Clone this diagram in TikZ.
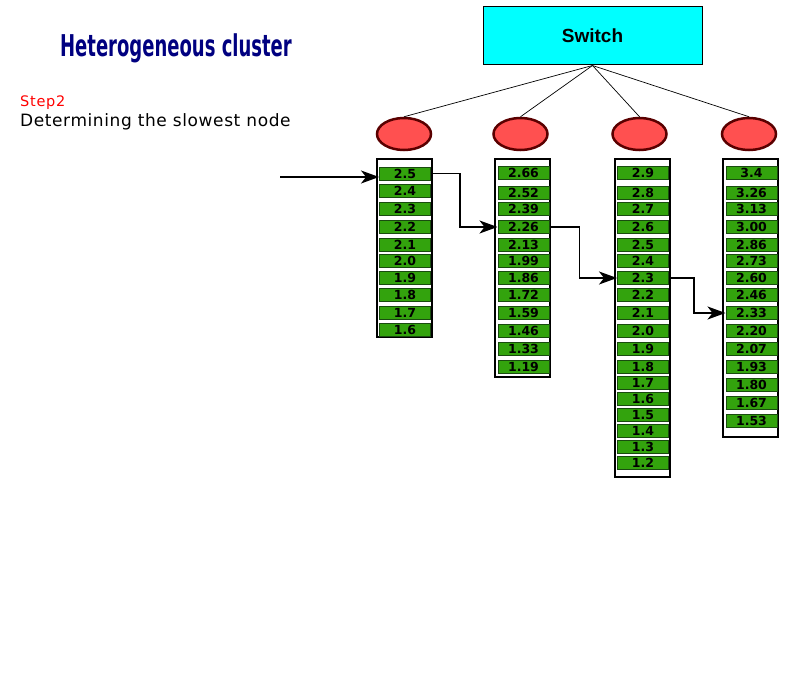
\documentclass[tikz,border=0pt]{standalone}
\usepackage{fontspec}
\setmainfont{DejaVu Sans}
\newfontfamily\titlefont[FakeStretch=0.6]{DejaVu Sans Bold}
\newfontfamily\switchfont{Liberation Sans Bold}
\newfontfamily\labelfont[LetterSpace=5]{DejaVu Sans}
\newfontfamily\taskfont[LetterSpace=3.5]{DejaVu Sans}
\newfontfamily\cellfont{DejaVu Sans Bold}
\usetikzlibrary{shapes.geometric,arrows.meta}

\definecolor{cellgreen}{RGB}{51,163,13}
\definecolor{cellline}{RGB}{25,75,15}
\definecolor{nodered}{RGB}{255,80,80}
\definecolor{nodeline}{RGB}{90,0,0}
\definecolor{titleblue}{RGB}{0,0,128}
\definecolor{switchcyan}{RGB}{0,255,255}

\tikzset{
  cell/.style={draw=cellline, fill=cellgreen, line width=1pt, minimum width=51pt,
    minimum height=13pt, inner sep=0pt, font=\cellfont\fontsize{12.5}{12.5}\selectfont},
  colbox/.style={draw=black, fill=white, line width=2.2pt},
  host/.style={ellipse, draw=nodeline, fill=nodered, line width=2.5pt,
    minimum width=54pt, minimum height=32pt},
  flow/.style={line width=1.2pt, -{Stealth[length=18pt,width=13pt,inset=5pt]}}
}

\begin{document}
\begin{tikzpicture}[x=1pt,y=-1pt]
        \useasboundingbox (0,0) rectangle (800,698);

        % texts
        \node[anchor=center, text=titleblue, font=\titlefont\fontsize{30}{30}\selectfont] (title) at (176,48) {Heterogeneous cluster};
        \node[anchor=base west, inner sep=0pt, text=red, font=\labelfont\fontsize{14.5}{14.5}\selectfont] (step) at (20,107) {Step2};
        \node[anchor=base west, inner sep=0pt, font=\taskfont\fontsize{17}{17}\selectfont] (task) at (20,127) {Determining the slowest node};

        % switch and hosts
        \node[draw, fill=switchcyan, line width=1pt, minimum width=219pt, minimum height=58pt,
              font=\switchfont\fontsize{19}{19}\selectfont] (switch) at (592.5,36) {Switch};
        \node[host] (n1) at (404,134) {};
        \node[host] (n2) at (520.5,134) {};
        \node[host] (n3) at (639.5,134) {};
        \node[host] (n4) at (749,134) {};
        \foreach \n in {1,...,4}
            \draw[line width=0.7pt] (switch.south) -- (n\n.north);

        % columns
        \draw[colbox] (377,159) rectangle (432,337);
        \draw[colbox] (495,159) rectangle (550,377);
        \draw[colbox] (615,159) rectangle (670,477);
        \draw[colbox] (723,159) rectangle (778,437);

        \foreach \v/\y [count=\i] in {2.5/173.5,2.4/191,2.3/209,2.2/227,2.1/245,2.0/261,1.9/277.5,1.8/294.5,1.7/312.5,1.6/329.5}
            \node[cell] (c1-\i) at (405,\y) {\v};
        \foreach \v/\y [count=\i] in {2.66/173,2.52/193,2.39/209,2.26/227,2.13/245,1.99/261,1.86/278,1.72/295,1.59/313,1.46/331,1.33/349,1.19/367}
            \node[cell] (c2-\i) at (523.5,\y) {\v};
        \foreach \v/\y [count=\i] in {2.9/173,2.8/193,2.7/209,2.6/227,2.5/245,2.4/261,2.3/278,2.2/295,2.1/313,2.0/331,1.9/349,1.8/367,1.7/383,1.6/399,1.5/415,1.4/431,1.3/447,1.2/463}
            \node[cell] (c3-\i) at (643,\y) {\v};
        \foreach \v/\y [count=\i] in {3.4/173,3.26/193,3.13/209,3.00/227,2.86/245,2.73/261,2.60/278,2.46/295,2.33/313,2.20/331,2.07/349,1.93/367,1.80/385,1.67/403,1.53/421}
            \node[cell] (c4-\i) at (751.5,\y) {\v};

        % search path
        \coordinate (in) at (280,177);
        \draw[flow] (in) -- (in -| c1-1.west);
        \draw[flow] (c1-1.east) -- ++(29,0) |- (c2-4.west);
        \draw[flow] (c2-4.east) -- ++(30,0) |- (c3-7.west);
        \draw[flow] (c3-7.east) -- ++(25,0) |- (c4-9.west);
\end{tikzpicture}
\end{document}
